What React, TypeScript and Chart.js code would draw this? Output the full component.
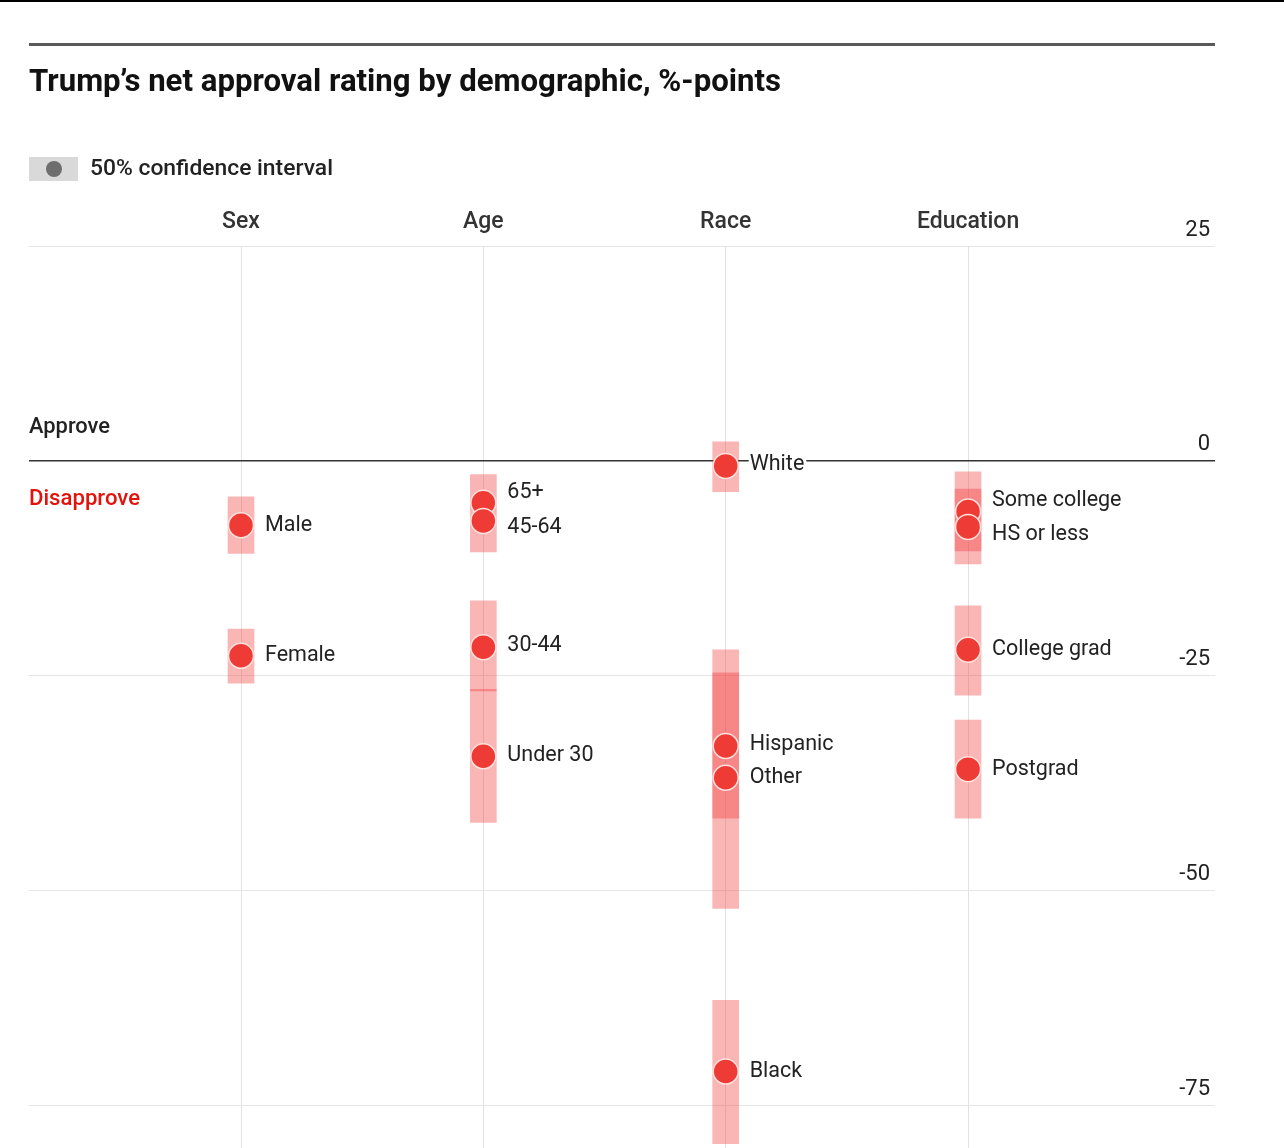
import React, { useEffect, useRef } from "react";
import { Chart, registerables } from "chart.js";
Chart.register(...registerables);

// ---- data ----
const groups = ["Sex", "Age", "Race", "Education"];
const labels = ["Male", "Female", "65+", "45-64", "30-44", "Under 30", "White", "Hispanic", "Other", "Black", "Some college", "HS or less", "College grad", "Postgrad"];
const groupIndex = [1, 1, 2, 2, 2, 2, 3, 3, 3, 3, 4, 4, 4, 4];
const netApproval = [-7.5, -22.7, -4.9, -7.0, -21.7, -34.4, -0.6, -33.2, -36.9, -71.1, -5.9, -7.7, -22.0, -35.9];
const ciHigh = [-4.2, -19.6, -1.6, -1.6, -16.3, -26.6, 2.2, -24.7, -22.0, -62.8, -1.3, -3.3, -16.9, -30.2];
const ciLow = [-10.8, -25.9, -10.6, -10.6, -26.8, -42.1, -3.6, -41.6, -52.1, -79.5, -10.5, -12.0, -27.3, -41.6];
const yTicks = [25, 0, -25, -50, -75];

// ---- style (not data) ----
const labelDy = [0, 0, -10, 7, -2, -1, -1, -1, 0, 0, -11, 8, 0, 0];
const ciAlpha = [0.38, 0.38, 0.213, 0.213, 0.38, 0.38, 0.38, 0.38, 0.38, 0.38, 0.38, 0.38, 0.38, 0.38];
const FONT = "Roboto, 'Noto Sans', sans-serif";

function txt(ctx: CanvasRenderingContext2D, s: string, x: number, y: number, font: string, color: string, align: CanvasTextAlign = "left", width?: number, baseline: CanvasTextBaseline = "middle") {
  ctx.save();
  ctx.font = font;
  ctx.fillStyle = color;
  ctx.textBaseline = baseline;
  if (width) {
    const w = ctx.measureText(s).width;
    ctx.translate(x, y);
    ctx.scale(width / w, 1);
    ctx.textAlign = "left";
    ctx.fillText(s, 0, 0);
  } else {
    ctx.textAlign = align;
    ctx.fillText(s, x, y);
  }
  ctx.restore();
}

const decor = {
  id: "decor",
  beforeDraw(chart: any) {
    const ctx: CanvasRenderingContext2D = chart.ctx;
    const xs = chart.scales.x;
    ctx.save();
    ctx.fillStyle = "#ffffff";
    ctx.fillRect(0, 0, chart.width, chart.height);
    ctx.fillStyle = "#000000";
    ctx.fillRect(0, 0, chart.width, 2);
    ctx.fillStyle = "#595959";
    ctx.fillRect(29, 43, 1186, 3);
    ctx.restore();
    txt(ctx, "Trump\u2019s net approval rating by demographic, %-points", 29, 91, `bold 31px ${FONT}`, "#111", "left", 752, "alphabetic");
    // legend
    ctx.save();
    ctx.fillStyle = "#d9d9d9";
    ctx.fillRect(29, 157, 49, 24);
    ctx.fillStyle = "#6e6e6e";
    ctx.beginPath();
    ctx.arc(54, 169, 8, 0, Math.PI * 2);
    ctx.fill();
    ctx.restore();
    txt(ctx, "50% confidence interval", 90, 169, `500 22px ${FONT}`, "#222", "left", 243);
    groups.forEach((g, i) => {
      txt(ctx, g, xs.getPixelForValue(i + 1), 222, `500 23px ${FONT}`, "#333", "center");
    });
    txt(ctx, "Approve", 29, 427, `500 22px ${FONT}`, "#222", "left", 81);
    txt(ctx, "Disapprove", 29, 499, `500 22px ${FONT}`, "#e3120b", "left", 111);
  },
  afterDatasetsDraw(chart: any) {
    const ctx: CanvasRenderingContext2D = chart.ctx;
    const xs = chart.scales.x;
    const ys = chart.scales.y;
    labels.forEach((l, i) => {
      const x = xs.getPixelForValue(groupIndex[i]) + 24;
      const y = ys.getPixelForValue(netApproval[i]) + labelDy[i];
      ctx.save();
      ctx.font = `21.5px ${FONT}`;
      const w = ctx.measureText(l).width;
      ctx.fillStyle = "#ffffff";
      ctx.fillRect(x - 1, y - 11, w + 3, 22);
      ctx.restore();
      txt(ctx, l, x, y, `21.5px ${FONT}`, "#222");
    });
  },
};

export default function App() {
  const ref = useRef<HTMLCanvasElement>(null);
  useEffect(() => {
    if (!ref.current) return;
    const points = labels.map((_, i) => ({ x: groupIndex[i], y: netApproval[i] }));
    const bars = labels.map((_, i) => ({ x: groupIndex[i], y: [ciLow[i], ciHigh[i]] }));
    const chart = new Chart(ref.current, {
      type: "bar",
      data: {
        datasets: [
          {
            type: "scatter",
            label: "Net approval",
            data: points,
            order: 0,
            clip: false,
            pointRadius: 12.5,
            pointHoverRadius: 12.5,
            pointBackgroundColor: "#ef3b36",
            pointBorderColor: "rgba(255,226,222,1)",
            pointBorderWidth: 1.5,
          } as any,
          {
            type: "bar",
            label: "50% confidence interval",
            data: bars,
            order: 1,
            barThickness: 26,
            grouped: false,
            backgroundColor: ciAlpha.map((a) => `rgba(242,60,60,${a})`),
            borderWidth: 0,
          } as any,
        ],
      },
      options: {
        animation: false,
        responsive: false,
        devicePixelRatio: 1,
        layout: { autoPadding: false, padding: { top: 246, left: 29, right: 69, bottom: 0 } },
        plugins: { legend: { display: false }, tooltip: { enabled: false }, title: { display: false } },
        scales: {
          x: {
            type: "linear",
            offset: false,
            min: 0.1252,
            max: 5.019,
            grid: { color: "#e2e2e2", lineWidth: 1, drawTicks: false, offset: false },
            border: { display: false },
            ticks: { display: false },
            afterBuildTicks: (s: any) => {
              s.ticks = groups.map((_, i) => ({ value: i + 1 }));
            },
            afterFit: (s: any) => {
              s.height = 0;
              s.paddingLeft = 0;
              s.paddingRight = 0;
            },
          },
          y: {
            type: "linear",
            position: "right",
            min: -80,
            max: 25,
            grid: {
              color: (c: any) => (c.tick && c.tick.value === 0 ? "#333333" : "#e6e6e6"),
              lineWidth: (c: any) => (c.tick && c.tick.value === 0 ? 1.6 : 1),
              drawTicks: false,
            },
            border: { display: false },
            ticks: {
              mirror: true,
              padding: -5,
              labelOffset: -16,
              color: "#222",
              font: { family: FONT, size: 22 },
            },
            afterBuildTicks: (s: any) => {
              s.ticks = yTicks.map((v) => ({ value: v }));
            },
            afterFit: (s: any) => {
              s.width = 0;
              s.paddingTop = 0;
              s.paddingBottom = 0;
            },
          },
        },
      } as any,
      plugins: [decor],
    });
    return () => chart.destroy();
  }, []);
  return (
    <div style={{ position: "fixed", left: 0, top: 0, width: 1284, height: 1148, background: "#fff" }}>
      <canvas ref={ref} width={1284} height={1148} style={{ width: 1284, height: 1148 }} />
    </div>
  );
}
